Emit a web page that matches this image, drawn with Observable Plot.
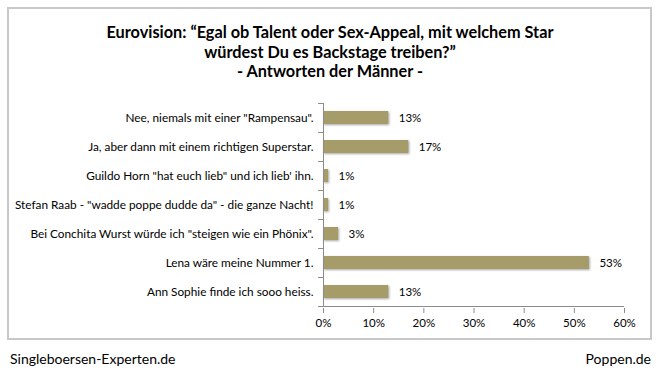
<!DOCTYPE html>
<html>
<head>
<meta charset="utf-8">
<script src="https://cdn.jsdelivr.net/npm/d3@7"></script>
<script src="https://cdn.jsdelivr.net/npm/@observablehq/plot@0.6"></script>
<style>
  html, body { margin: 0; padding: 0; background: #fff; }
  #wrap { position: relative; width: 660px; height: 375px; font-family: Lato, "Open Sans", sans-serif; color: #000; overflow: hidden; }
  #box { position: absolute; left: 7px; top: 7px; width: 641px; height: 329px; border: 2px solid #c8c8c8; box-sizing: content-box; }
  #title { position: absolute; left: 0; top: 22px; width: 660px; text-align: center; font-weight: bold; font-size: 16.3px; line-height: 19.7px; }
  #chart { position: absolute; left: 0; top: 90px; }
  .foot { position: absolute; top: 350px; font-size: 14px; }
</style>
</head>
<body>
<div id="wrap">
  <div id="box"></div>
  <div id="title">Eurovision: “Egal ob Talent oder Sex-Appeal, mit welchem Star<br>würdest Du es Backstage treiben?”<br>- Antworten der Männer -</div>
  <div id="chart"></div>
  <div class="foot" style="left:10px">Singleboersen-Experten.de</div>
  <div class="foot" style="right:9px">Poppen.de</div>
</div>
<script>
const categories = [
  "Nee, niemals mit einer \"Rampensau\".",
  "Ja, aber dann mit einem richtigen Superstar.",
  "Guildo Horn \"hat euch lieb\" und ich lieb' ihn.",
  "Stefan Raab - \"wadde poppe dudde da\" - die ganze Nacht!",
  "Bei Conchita Wurst würde ich \"steigen wie ein Phönix\".",
  "Lena wäre meine Nummer 1.",
  "Ann Sophie finde ich sooo heiss."
];
const values = [13, 17, 1, 1, 3, 53, 13];
const xTicks = [0, 10, 20, 30, 40, 50, 60];

const data = categories.map((c, i) => ({category: c, value: values[i]}));
const H = 250, mTop = 10, mBottom = 32;
const axisColor = "#8c8c8c";

// category axis: vertical line, boundary ticks, and bottom value-axis line
function axesLines(index, scales, values, dimensions) {
  const g = d3.create("svg:g").attr("stroke", axisColor).attr("fill", "none");
  const x0 = scales.x(0), x1 = scales.x(60);
  const ys = categories.map(c => scales.y(c));
  const bw = ys.length > 1 ? ys[1] - ys[0] : 0;
  const top = ys[0], bottom = ys[ys.length - 1] + bw;
  g.append("line").attr("x1", x0 + 0.5).attr("x2", x0 + 0.5).attr("y1", top).attr("y2", bottom);
  g.append("line").attr("x1", x0).attr("x2", x1).attr("y1", bottom + 0.5).attr("y2", bottom + 0.5);
  [...ys, bottom].forEach(y => {
    const yy = Math.round(y) + 0.5;
    g.append("line").attr("x1", x0 - 5).attr("x2", x0).attr("y1", yy).attr("y2", yy);
  });
  return g.node();
}

const chart = Plot.plot({
  width: 660,
  height: H,
  marginLeft: 323,
  marginRight: 36,
  marginTop: mTop,
  marginBottom: mBottom,
  style: {fontFamily: "Lato, 'Open Sans', sans-serif", fontSize: "11px", color: "#000", background: "transparent"},
  x: {domain: [0, 60], axis: null},
  y: {domain: categories, padding: 0, axis: null},
  marks: [
    Plot.barX(data, {y: "category", x: "value", fill: "#a69c69", insetTop: 8, insetBottom: 8}),
    Plot.text(data, {y: "category", x: "value", text: d => d.value + "%", textAnchor: "start", dx: 10, fontSize: 11.5}),
    Plot.text(data, {y: "category", x: 0, text: "category", textAnchor: "end", dx: -10, fontSize: 11.8}),
    axesLines,
    Plot.axisX(xTicks, {tickFormat: d => d + "%", tickSize: 5, tickPadding: 5, stroke: axisColor, color: "#000", fontSize: 11.5, label: null})
  ]
});
document.getElementById("chart").appendChild(chart);
d3.select(chart).selectAll("g[aria-label='bar'] rect").style("filter", "drop-shadow(1px 1.5px 1px rgba(0,0,0,0.35))");
</script>
</body>
</html>
